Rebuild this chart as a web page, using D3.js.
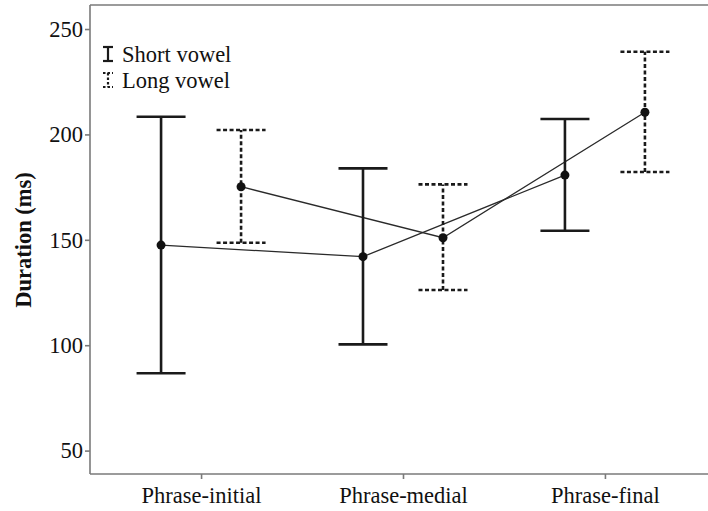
<!DOCTYPE html>
<html>
<head>
<meta charset="utf-8">
<script src="https://cdn.jsdelivr.net/npm/d3@7"></script>
<style>
  html, body { margin: 0; padding: 0; background: #fff; }
</style>
</head>
<body>
<svg id="chart" width="708" height="511"></svg>
<script>
// Duration (ms) by phrase position, mean with error bar range
const positions = ["Phrase-initial", "Phrase-medial", "Phrase-final"];
const seriesNames = ["Short vowel", "Long vowel"];
const shortMean = [147.5, 142.0, 180.7];
const shortLow  = [86.7, 100.4, 154.3];
const shortHigh = [208.4, 183.9, 207.3];
const longMean  = [175.2, 151.0, 210.5];
const longLow   = [148.6, 126.2, 182.2];
const longHigh  = [202.1, 176.3, 239.2];
const yTicks = [50, 100, 150, 200, 250];

const serif = "'Liberation Serif', serif";
const textColor = "#111";
const fontSize = 22.5;

const svg = d3.select("#chart");
const plotLeft = 90, plotTop = 5, plotBottom = 474, plotRight = 716;

const x = d3.scalePoint().domain(positions).range([plotLeft, plotRight]).padding(0.55);
const y = d3.scaleLinear().domain([38.9, 261.4]).range([plotBottom, plotTop]);

const series = [
  { name: seriesNames[0], mean: shortMean, low: shortLow, high: shortHigh, offset: -40, dash: null },
  { name: seriesNames[1], mean: longMean, low: longLow, high: longHigh, offset: 40, dash: "4,2.5" }
];

const axisColor = "#7a7a7a";

function styleText(sel) {
  sel.style("font-family", serif).style("font-size", fontSize + "px").style("fill", textColor);
}

// frame: top line
svg.append("line").attr("x1", plotLeft).attr("x2", 708).attr("y1", plotTop).attr("y2", plotTop)
  .attr("stroke", axisColor).attr("stroke-width", 1.6);

// y axis
const yAxis = svg.append("g").attr("transform", `translate(${plotLeft},0)`)
  .call(d3.axisLeft(y).tickValues(yTicks).tickSize(5).tickPadding(2));
yAxis.select(".domain").attr("stroke", axisColor).attr("stroke-width", 1.6)
  .attr("d", `M0,${plotTop}V${plotBottom}`);
yAxis.selectAll(".tick line").attr("stroke", axisColor).attr("stroke-width", 1.6);
yAxis.selectAll(".tick text").call(styleText);

// x axis
const xAxis = svg.append("g").attr("transform", `translate(0,${plotBottom})`)
  .call(d3.axisBottom(x).tickSize(5).tickPadding(8));
xAxis.select(".domain").attr("stroke", axisColor).attr("stroke-width", 1.6)
  .attr("d", `M${plotLeft},0H708`);
xAxis.selectAll(".tick line").attr("stroke", axisColor).attr("stroke-width", 1.6);
xAxis.selectAll(".tick text").call(styleText);

// y axis title
svg.append("text")
  .attr("transform", `translate(31,240) rotate(-90)`)
  .attr("text-anchor", "middle")
  .call(styleText)
  .style("font-weight", "bold")
  .text("Duration (ms)");

// connecting lines between means
const line = d3.line().x(d => d[0]).y(d => d[1]);
series.forEach(s => {
  const pts = positions.map((p, i) => [x(p) + s.offset, y(s.mean[i])]);
  svg.append("path").attr("d", line(pts)).attr("fill", "none")
    .attr("stroke", "#2a2a2a").attr("stroke-width", 1.3);
});

// error bars
const capHalf = 24.5;
series.forEach(s => {
  const g = svg.append("g").attr("stroke", "#1a1a1a").attr("stroke-width", 2.6)
    .attr("stroke-dasharray", s.dash);
  positions.forEach((p, i) => {
    const cx = x(p) + s.offset;
    g.append("line").attr("x1", cx).attr("x2", cx).attr("y1", y(s.low[i])).attr("y2", y(s.high[i]));
    g.append("line").attr("x1", cx - capHalf).attr("x2", cx + capHalf).attr("y1", y(s.high[i])).attr("y2", y(s.high[i]));
    g.append("line").attr("x1", cx - capHalf).attr("x2", cx + capHalf).attr("y1", y(s.low[i])).attr("y2", y(s.low[i]));
  });
  svg.append("g").selectAll("circle").data(s.mean).join("circle")
    .attr("cx", (d, i) => x(positions[i]) + s.offset)
    .attr("cy", d => y(d))
    .attr("r", 4.5).attr("fill", "#111");
});

// legend
const legend = svg.append("g");
series.forEach((s, i) => {
  const ly = 47 + i * 26;
  const gg = legend.append("g").attr("stroke", "#1a1a1a").attr("stroke-width", 2.2)
    .attr("stroke-dasharray", s.dash ? "2.5,2" : null);
  gg.append("line").attr("x1", 108).attr("x2", 108).attr("y1", ly).attr("y2", ly + 14);
  gg.append("line").attr("x1", 103).attr("x2", 113).attr("y1", ly).attr("y2", ly);
  gg.append("line").attr("x1", 103).attr("x2", 113).attr("y1", ly + 14).attr("y2", ly + 14);
  legend.append("text").attr("x", 122).attr("y", ly + 15)
    .call(styleText).text(s.name);
});
</script>
</body>
</html>
